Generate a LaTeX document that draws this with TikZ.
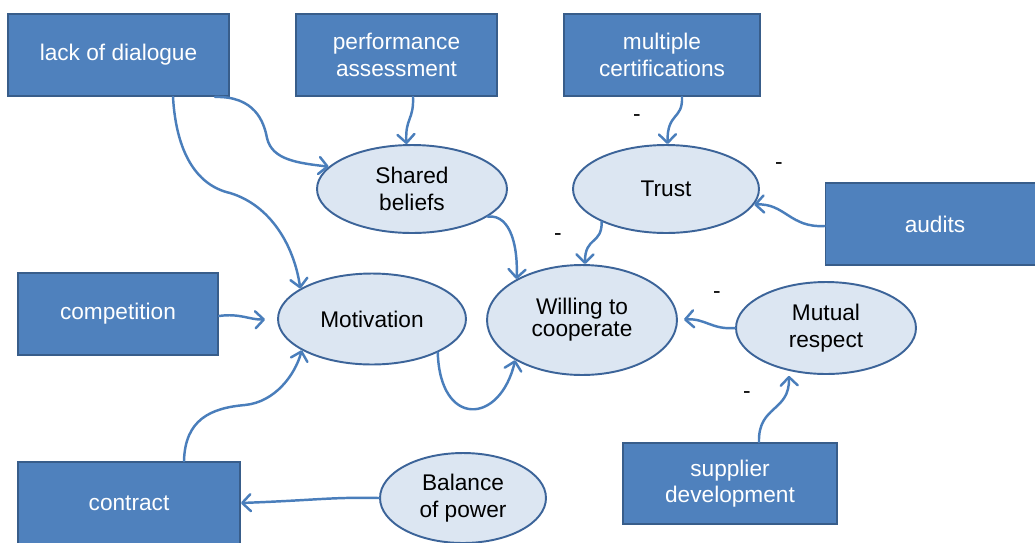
\documentclass[tikz,border=0pt]{standalone}
\usepackage{fontspec}
\setmainfont{Liberation Sans}
\usetikzlibrary{arrows.meta, positioning, shapes.geometric, calc}
\definecolor{boxblue}{RGB}{79,129,189}
\definecolor{boxedge}{RGB}{56,93,138}
\definecolor{ovalfill}{RGB}{220,230,242}
\definecolor{ovaledge}{RGB}{60,100,153}
\definecolor{arrowblue}{RGB}{74,126,187}

\begin{document}
\begin{tikzpicture}[x=0.02cm, y=-0.02cm,
    factor/.style={draw=boxedge, line width=1.1pt, fill=boxblue, text=white, align=center,
        inner sep=0pt, minimum height=1.64cm, font=\fontsize{12.9}{15}\selectfont},
    concept/.style={ellipse, draw=ovaledge, line width=1.1pt, fill=ovalfill, align=center,
        inner sep=0pt, font=\fontsize{12.9}{15}\selectfont},
    link/.style={arrowblue, line width=1.4pt, line cap=round,
        -{Straight Barb[length=1.7mm,width=3.4mm,round]}},
    minus/.style={font=\fontsize{12.9}{15}\selectfont}]
    \useasboundingbox (0,0) rectangle (1035,542);

    % Outer factors
    \node[factor,minimum width=4.42cm] (lack) at (118.5,55) {lack of dialogue};
    \node[factor,minimum width=4.02cm] (perf) at (396.5,55) {performance\\assessment};
    \node[factor,minimum width=3.92cm] (cert) at (662,55) {multiple\\certifications};
    \node[factor,minimum width=4.38cm] (audits) at (935,224) {audits};
    \node[factor,minimum width=4cm] (comp) at (118,314) {competition};
    \node[factor,minimum width=4.44cm] (contract) at (129,503) {contract};
    \node[factor,minimum width=4.28cm,minimum height=1.62cm] (supdev) at (730,483.5) {supplier\\development};

    % Inner concepts
    \node[concept,minimum width=3.8cm,minimum height=1.76cm] (shared) at (412,189) {Shared\\beliefs};
    \node[concept,minimum width=3.72cm,minimum height=1.76cm] (trust) at (666,189) {Trust};
    \node[concept,minimum width=3.76cm,minimum height=1.82cm] (motiv) at (372,319) {Motivation};
    \node[concept,minimum width=3.8cm,minimum height=2.2cm,font=\fontsize{12.9}{12.6}\selectfont] (willing) at (582,320) {Willing to\\cooperate};
    \node[concept,minimum width=3.6cm,minimum height=1.84cm] (mutual) at (826,328) {Mutual\\respect};
    \node[concept,minimum width=3.32cm,minimum height=1.8cm] (balance) at (463,498) {Balance\\of power};

    % Links into shared beliefs and motivation
    \draw[link] ($(lack.south)+(96.5,0)$) .. controls (255,96) and (264,122) .. (267,138)
        .. controls (272,160) and (298,163) .. (shared.165);
    \draw[link] ($(lack.south)+(54.5,0)$) .. controls (176,150) and (195,185) .. (230,193)
        .. controls (270,205) and (294,245) .. (motiv.157);
    \draw[link] ($(perf.south)+(16.5,0)$) .. controls (414,120) and (405,118) .. (shared.97);
    \draw[link,shorten >=0.24cm] ($(comp.east)+(0,2)$) .. controls (240,313) and (250,320) .. (motiv.west);
    \draw[link] ($(contract.north)+(55,0)$) .. controls (185,420) and (210,408) .. (245,405)
        .. controls (275,402) and (295,375) .. (motiv.204);

    % Links into trust
    \draw[link] ($(cert.south)+(20,0)$) .. controls (683,120) and (667,112) .. (trust.88);
    \draw[link] ($(audits.west)+(0,2)$) .. controls (790,228) and (785,203) .. (trust.-10);

    % Links into willing to cooperate
    \draw[link] (trust.207) .. controls (602,245) and (585,236) .. (willing.87);
    \draw[link] (shared.-20) .. controls (512,214) and (518,250) .. (willing.148);
    \draw[link] (motiv.-27) .. controls (440,428) and (500,425) .. (willing.211);
    \draw[link,shorten >=0.12cm] (mutual.west) .. controls (712,330) and (705,318) .. (willing.east);

    % Links from the lower nodes
    \draw[link,shorten >=0.1cm] ($(supdev.north)+(29,0)$) .. controls (758,405) and (790,412) .. (mutual.229);
    \draw[link] (balance.west) .. controls (330,497) and (320,500) .. (contract.east);

    % Signs
    \node[minus] at (637,118) {-};
    \node[minus] at (779,166) {-};
    \node[minus] at (558,237) {-};
    \node[minus] at (717,295) {-};
    \node[minus] at (747,395) {-};
\end{tikzpicture}
\end{document}
